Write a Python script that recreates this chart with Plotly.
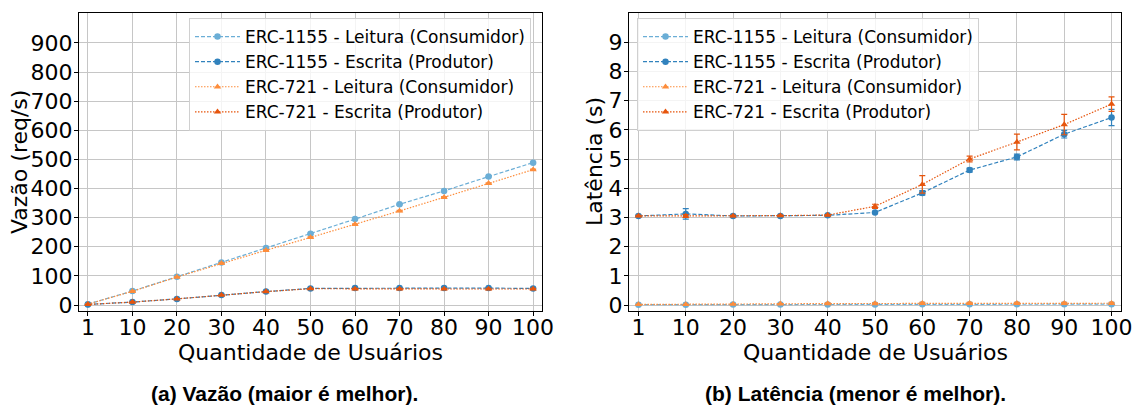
import plotly.graph_objects as go
from plotly.subplots import make_subplots

usuarios = ["1", "10", "20", "30", "40", "50", "60", "70", "80", "90", "100"]

# Vazão (req/s)
vazao_1155_leitura = [3, 48, 97, 146, 196, 245, 295, 346, 392, 441, 489]
vazao_1155_escrita = [2, 10, 21, 34, 46, 57, 58, 58, 58, 58, 57]
vazao_721_leitura = [3, 47, 96, 143, 188, 232, 277, 323, 370, 418, 465]
vazao_721_escrita = [2, 10, 21, 34, 46, 56, 55, 55, 55, 55, 55]
vazao_1155_leitura_err = [0.5, 1, 1, 1.5, 2, 2, 2, 2, 2, 2, 2]
vazao_1155_escrita_err = [0.3, 1, 1, 1, 1, 1.5, 2, 2, 2, 2, 2]
vazao_721_leitura_err = [0.5, 1, 1, 1.5, 2, 2, 2, 2, 2, 2, 2]
vazao_721_escrita_err = [0.3, 1, 1, 1, 1, 1.5, 2, 2, 2, 2, 2]

# Latência (s)
lat_1155_leitura = [0.01, 0.01, 0.02, 0.02, 0.02, 0.02, 0.03, 0.03, 0.03, 0.03, 0.03]
lat_1155_escrita = [3.05, 3.12, 3.05, 3.05, 3.07, 3.17, 3.84, 4.62, 5.07, 5.85, 6.42]
lat_721_leitura = [0.02, 0.02, 0.03, 0.04, 0.05, 0.05, 0.06, 0.06, 0.06, 0.06, 0.06]
lat_721_escrita = [3.05, 3.05, 3.05, 3.06, 3.08, 3.38, 4.13, 5.0, 5.58, 6.18, 6.88]
lat_1155_leitura_err = [0.005, 0.005, 0.01, 0.01, 0.01, 0.01, 0.01, 0.01, 0.01, 0.01, 0.01]
lat_1155_escrita_err = [0.02, 0.18, 0.02, 0.02, 0.02, 0.03, 0.08, 0.07, 0.1, 0.13, 0.28]
lat_721_leitura_err = [0.005, 0.005, 0.01, 0.01, 0.02, 0.02, 0.03, 0.03, 0.03, 0.03, 0.03]
lat_721_escrita_err = [0.02, 0.05, 0.02, 0.02, 0.02, 0.07, 0.3, 0.1, 0.27, 0.35, 0.25]

nomes = [
    "ERC-1155 - Leitura (Consumidor)",
    "ERC-1155 - Escrita (Produtor)",
    "ERC-721 - Leitura (Consumidor)",
    "ERC-721 - Escrita (Produtor)",
]
cores = ["#6baed6", "#3182bd", "#fd8d3c", "#e6550d"]
dashes = ["4px,2px", "4px,2px", "1.5px,1.5px", "1.5px,1.5px"]
simbolos = ["circle", "circle", "triangle-up", "triangle-up"]

fig = make_subplots(rows=1, cols=2, horizontal_spacing=0.0)

vazao = [vazao_1155_leitura, vazao_1155_escrita, vazao_721_leitura, vazao_721_escrita]
vazao_err = [vazao_1155_leitura_err, vazao_1155_escrita_err, vazao_721_leitura_err, vazao_721_escrita_err]
lat = [lat_1155_leitura, lat_1155_escrita, lat_721_leitura, lat_721_escrita]
lat_err = [lat_1155_leitura_err, lat_1155_escrita_err, lat_721_leitura_err, lat_721_escrita_err]

for col, (dados, erros, leg) in enumerate([(vazao, vazao_err, "legend"), (lat, lat_err, "legend2")], start=1):
    for i in range(4):
        fig.add_trace(
            go.Scatter(
                x=usuarios,
                y=dados[i],
                name=nomes[i],
                mode="lines+markers",
                line=dict(color=cores[i], width=1.2, dash=dashes[i]),
                marker=dict(color=cores[i], size=6.5, symbol=simbolos[i]),
                error_y=dict(type="data", array=erros[i], visible=True,
                             color=cores[i], thickness=1.2, width=3),
                legend=leg,
                legendgroup=f"{leg}{i}",
            ),
            row=1, col=col,
        )

W, H = 1137, 406
ml, mr, mt, mb = 79, 16, 13, 95
pw = W - ml - mr
ph = H - mt - mb

leg_common = dict(
    xanchor="left", yanchor="top",
    bgcolor="rgba(255,255,255,0.8)", bordercolor="#d0d0d0", borderwidth=1,
    font=dict(size=17, family="DejaVu Sans"), itemwidth=45, tracegroupgap=0,
)

fig.update_layout(
    width=W, height=H,
    margin=dict(l=ml, r=mr, t=mt, b=mb, autoexpand=False),
    plot_bgcolor="white",
    paper_bgcolor="white",
    font=dict(family="DejaVu Sans", color="black"),
    showlegend=True,
    legend=dict(x=(189 - ml) / pw, y=1 - (18 - mt) / ph, **leg_common),
    legend2=dict(x=(637 - ml) / pw, y=1 - (18 - mt) / ph, **leg_common),
)

axis_common = dict(
    showline=True, linecolor="black", linewidth=1, mirror=True,
    showgrid=True, gridcolor="#c6c6c6", gridwidth=1,
    ticks="outside", ticklen=4, tickcolor="black",
    tickfont=dict(size=22, family="DejaVu Sans"),
    zeroline=False, automargin=False,
)

fig.update_xaxes(**axis_common, type="category", range=[-0.2, 10.2], ticklabelstandoff=-7)
fig.update_xaxes(domain=[0, (542 - ml) / pw], row=1, col=1)
fig.update_xaxes(domain=[(629 - ml) / pw, 1], row=1, col=2)

fig.update_yaxes(**axis_common, ticklabelstandoff=-3)
fig.update_yaxes(range=[-20.6, 1003], tickvals=[0, 100, 200, 300, 400, 500, 600, 700, 800, 900], row=1, col=1)
fig.update_yaxes(range=[-0.205, 10], tickvals=list(range(10)), row=1, col=2)

# axis titles
for texto, xpix in [("Vazão (req/s)", 19), ("Latência (s)", 594)]:
    fig.add_annotation(text=texto, xref="paper", yref="paper",
                       x=(xpix - ml) / pw, y=0.5, textangle=-90, showarrow=False,
                       xanchor="center", yanchor="middle",
                       font=dict(size=22, family="DejaVu Sans"))
xt_y = -(352 - (H - mb)) / ph
for xpix in [310.5, 875]:
    fig.add_annotation(text="Quantidade de Usuários", xref="paper", yref="paper",
                       x=(xpix - ml) / pw, y=xt_y, showarrow=False,
                       xanchor="center", yanchor="middle",
                       font=dict(size=22, family="DejaVu Sans"))

cap_y = -(393 - (H - mb)) / ph
fig.add_annotation(text="<b>(a) Vazão (maior é melhor).</b>", xref="paper", yref="paper",
                   x=(284 - ml) / pw, y=cap_y, showarrow=False, xanchor="center", yanchor="middle",
                   font=dict(size=21, family="Liberation Sans"))
fig.add_annotation(text="<b>(b) Latência (menor é melhor).</b>", xref="paper", yref="paper",
                   x=(855 - ml) / pw, y=cap_y, showarrow=False, xanchor="center", yanchor="middle",
                   font=dict(size=21, family="Liberation Sans"))

fig.write_html("out.html", config={"displayModeBar": False},
               post_script="document.body.style.margin='0';document.body.style.overflow='hidden';")
